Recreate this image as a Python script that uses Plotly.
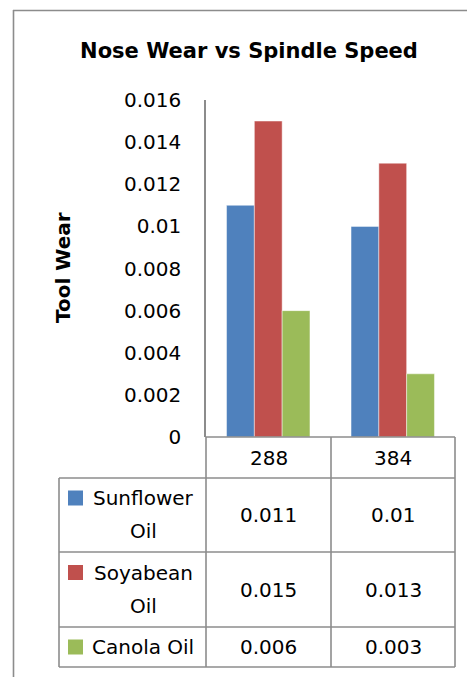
import plotly.graph_objects as go

# ---- data ----
categories = ["288", "384"]
series_names = ["Sunflower Oil", "Soyabean Oil", "Canola Oil"]
sunflower = [0.011, 0.01]
soyabean = [0.015, 0.013]
canola = [0.006, 0.003]
table_text = {
    "Sunflower Oil": ["0.011", "0.01"],
    "Soyabean Oil": ["0.015", "0.013"],
    "Canola Oil": ["0.006", "0.003"],
}
y_tickvals = [0, 0.002, 0.004, 0.006, 0.008, 0.01, 0.012, 0.014, 0.016]
y_ticktext = ["0", "0.002", "0.004", "0.006", "0.008", "0.01", "0.012", "0.014", "0.016"]
title_text = "Nose Wear vs Spindle Speed"
y_title = "Tool Wear"

series_values = [sunflower, soyabean, canola]
colors = ["#4F81BD", "#C0504D", "#9BBB59"]

W, H = 475, 677
OFF = 8  # page body margin offset
L, R, T, B = 206, 455, 100, 437  # plot area in screen pixels
FONT = "DejaVu Sans"
GRAY = "#8c8c8c"


def px(x):
    return (x - L) / (R - L)


def py(y):
    return (B - y) / (B - T)


fig = go.Figure()
for name, vals, c in zip(series_names, series_values, colors):
    fig.add_trace(go.Bar(x=categories, y=vals, name=name, marker_color=c,
                         marker_line=dict(color="rgba(255,255,255,0.45)", width=1)))

shapes = []
annotations = []


def hline(x0, x1, y):
    shapes.append(dict(type="line", xref="paper", yref="paper", x0=px(x0), x1=px(x1),
                       y0=py(y), y1=py(y), line=dict(color=GRAY, width=1.6)))


def vline(x, y0, y1):
    shapes.append(dict(type="line", xref="paper", yref="paper", x0=px(x), x1=px(x),
                       y0=py(y0), y1=py(y1), line=dict(color=GRAY, width=1.6)))


def label(x, y, text, size, **kw):
    annotations.append(dict(x=px(x), y=py(y), xref="paper", yref="paper", text=text,
                            showarrow=False, xanchor="center", yanchor="middle",
                            font=dict(family=FONT, size=size, color="black"), **kw))


# outer chart frame
hline(13, 490, 10.5)
vline(13.5, 10, 700)

# table grid
col_x = [206, 331, 455]
row_y = [437, 478, 552, 627, 667]
leg_x = 59
hline(206, 455, row_y[0])
for y in row_y[1:]:
    hline(leg_x, 455, y)
for x in col_x:
    vline(x, row_y[0], row_y[-1])
vline(leg_x, row_y[1], row_y[-1])

fs = 20
# header
for i, cat in enumerate(categories):
    label((col_x[i] + col_x[i + 1]) / 2, (row_y[0] + row_y[1]) / 2, cat, fs)

# rows
for r, (name, c) in enumerate(zip(series_names, colors)):
    y0, y1 = row_y[r + 1], row_y[r + 2]
    yc = (y0 + y1) / 2
    for i in range(len(categories)):
        label((col_x[i] + col_x[i + 1]) / 2, yc, table_text[name][i], fs)
    lines = name.rsplit(" ", 1) if len(name) > 10 else [name]
    if len(lines) == 2:
        ys = [yc - 17, yc + 16]
    else:
        ys = [yc]
    for ln, yy in zip(lines, ys):
        label(143, yy, ln, fs)
    shapes.append(dict(type="rect", xref="paper", yref="paper", x0=px(68), x1=px(83),
                       y0=py(ys[0] - 7.5), y1=py(ys[0] + 7.5), fillcolor=c, line=dict(width=0)))

# y axis title
label(63, 268, "<b>" + y_title + "</b>", 20, textangle=-90)

fig.update_layout(
    width=W, height=H,
    margin=dict(l=L - OFF, r=W - R + OFF, t=T - OFF, b=H - B + OFF, pad=0),
    paper_bgcolor="white", plot_bgcolor="white",
    barmode="group", bargap=0.33, bargroupgap=0,
    showlegend=False,
    title=dict(text="<b>" + title_text + "</b>", x=(249 - OFF) / W, xanchor="center",
               y=1 - (51 - OFF) / H, yanchor="middle",
               font=dict(family=FONT, size=21, color="black")),
    xaxis=dict(showticklabels=False, showline=False, showgrid=False, zeroline=False, ticks=""),
    yaxis=dict(range=[0, 0.016], tickvals=y_tickvals, ticktext=y_ticktext, showgrid=False, zeroline=False,
               showline=True, linecolor=GRAY, linewidth=1.6, ticks="", ticklabelstandoff=19,
               tickfont=dict(family=FONT, size=fs, color="black")),
    shapes=shapes, annotations=annotations,
)

fig.write_html("out.html")
